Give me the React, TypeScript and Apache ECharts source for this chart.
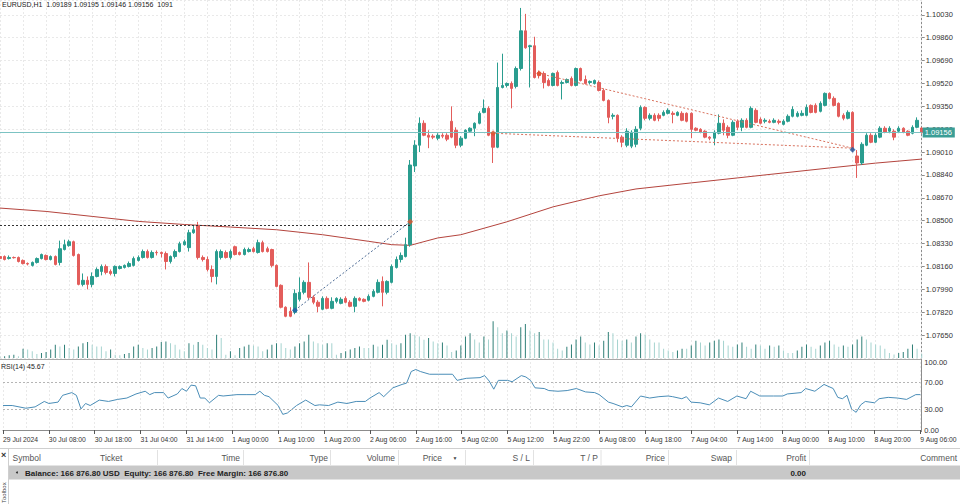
import React, { useEffect, useRef } from "react";
import * as echarts from "echarts";

const FONT = "'Liberation Sans', Arial, sans-serif";

const sessions = [
  { day: "29 Jul", first: 22, last: 23 },
  { day: "30 Jul", first: 0, last: 23 },
  { day: "31 Jul", first: 0, last: 23 },
  { day: "1 Aug", first: 0, last: 23 },
  { day: "2 Aug", first: 0, last: 23 },
  { day: "5 Aug", first: 0, last: 23 },
  { day: "6 Aug", first: 0, last: 23 },
  { day: "7 Aug", first: 0, last: 23 },
  { day: "8 Aug", first: 0, last: 23 },
  { day: "9 Aug", first: 0, last: 6 },
];
const firstLabel = "29 Jul 2024";

const opens = [
  1.08234, 1.08234, 1.08219, 1.08227, 1.08227, 1.08205, 1.08182, 1.08168, 1.0819, 1.08219,
  1.08242, 1.08212, 1.08234, 1.0819, 1.08286, 1.08315, 1.08344, 1.08249, 1.08027, 1.08057,
  1.08027, 1.08086, 1.08123, 1.0816, 1.08123, 1.08108, 1.08145, 1.08153, 1.0816, 1.08168,
  1.08205, 1.08227, 1.08271, 1.08227, 1.08264, 1.08264, 1.08256, 1.08197, 1.08234, 1.08271,
  1.08322, 1.083, 1.08411, 1.08463, 1.08227, 1.08212, 1.08138, 1.08086, 1.08227, 1.08264,
  1.08227, 1.08307, 1.08264, 1.08249, 1.08271, 1.08292, 1.08264, 1.08337, 1.08292, 1.08286,
  1.08168, 1.0802, 1.07857, 1.07827, 1.0782, 1.07916, 1.07968, 1.08042, 1.07931, 1.07894,
  1.07842, 1.07923, 1.07849, 1.07901, 1.07886, 1.07923, 1.07894, 1.07864, 1.07923, 1.07916,
  1.07909, 1.07938, 1.07968, 1.08049, 1.07968, 1.08042, 1.08153, 1.08212, 1.08234, 1.08322,
  1.08907, 1.09061, 1.09224, 1.09135, 1.09128, 1.09113, 1.09135, 1.09135, 1.09239, 1.09172,
  1.09061, 1.09113, 1.09165, 1.09187, 1.09224, 1.09305, 1.09335, 1.0915, 1.09046, 1.0949,
  1.09505, 1.0952, 1.09498, 1.09631, 1.09911, 1.09793, 1.098, 1.09601, 1.09594, 1.09542,
  1.09505, 1.09601, 1.0952, 1.09527, 1.09557, 1.09505, 1.09631, 1.09549, 1.09527, 1.0952,
  1.09527, 1.09468, 1.09394, 1.09276, 1.09283, 1.09121, 1.09061, 1.09054, 1.09068, 1.09187,
  1.09342, 1.09261, 1.09283, 1.09283, 1.09283, 1.09298, 1.09298, 1.09283, 1.09298, 1.09298,
  1.09298, 1.09187, 1.09179, 1.09165, 1.09121, 1.09113, 1.0915, 1.09224, 1.09194, 1.09135,
  1.09239, 1.09194, 1.09246, 1.09194, 1.0932, 1.09253, 1.09239, 1.09239, 1.09231, 1.09239,
  1.09216, 1.09239, 1.09276, 1.09276, 1.09283, 1.09283, 1.09357, 1.09357, 1.09313, 1.09357,
  1.09446, 1.09409, 1.09372, 1.09283, 1.09261, 1.09305, 1.08981, 1.08929, 1.09061, 1.09135,
  1.09083, 1.09121, 1.09187, 1.09165, 1.09165, 1.09165, 1.09187, 1.09165, 1.0915, 1.09194,
  1.09189,
];
const highs = [
  1.08242, 1.08242, 1.08242, 1.08234, 1.08234, 1.08212, 1.0819, 1.08197, 1.08227, 1.08256,
  1.08249, 1.08242, 1.08242, 1.08352, 1.08359, 1.08359, 1.08352, 1.08256, 1.08108, 1.08086,
  1.08116, 1.08153, 1.08175, 1.08175, 1.08138, 1.08168, 1.08168, 1.08175, 1.08197, 1.08234,
  1.08242, 1.08286, 1.08286, 1.08279, 1.08279, 1.08271, 1.08271, 1.08242, 1.08286, 1.08344,
  1.08359, 1.08433, 1.08463, 1.08492, 1.08242, 1.08234, 1.08168, 1.08286, 1.08286, 1.08279,
  1.08286, 1.08315, 1.08271, 1.083, 1.083, 1.08307, 1.08359, 1.08352, 1.08307, 1.08292,
  1.08175, 1.08027, 1.07864, 1.07857, 1.0799, 1.08079, 1.08057, 1.0819, 1.07946, 1.07909,
  1.07938, 1.07938, 1.07931, 1.07931, 1.07931, 1.07938, 1.07909, 1.07938, 1.07931, 1.07923,
  1.07953, 1.0799, 1.08064, 1.08086, 1.08057, 1.08175, 1.08234, 1.08264, 1.08374, 1.08951,
  1.09098, 1.09268, 1.09246, 1.09172, 1.09142, 1.0915, 1.0915, 1.0915, 1.0935, 1.09194,
  1.09128, 1.09179, 1.09194, 1.09231, 1.09313, 1.09401, 1.0935, 1.09157, 1.09675, 1.09741,
  1.09527, 1.09535, 1.09646, 1.10081, 1.10037, 1.09807, 1.09867, 1.09616, 1.09609, 1.09557,
  1.09601, 1.09616, 1.09542, 1.09557, 1.09572, 1.09638, 1.09638, 1.09579, 1.09542, 1.09549,
  1.09542, 1.09483, 1.09401, 1.09298, 1.0929, 1.09135, 1.09187, 1.09172, 1.09202, 1.09357,
  1.0935, 1.09298, 1.09298, 1.09298, 1.0932, 1.09335, 1.09313, 1.09313, 1.09313, 1.09305,
  1.09305, 1.09194, 1.09187, 1.09172, 1.09128, 1.09172, 1.0929, 1.09253, 1.09209, 1.09246,
  1.09253, 1.09261, 1.09261, 1.0935, 1.09335, 1.09268, 1.09261, 1.09253, 1.09261, 1.09253,
  1.09253, 1.0929, 1.0935, 1.09313, 1.0932, 1.09364, 1.09364, 1.09372, 1.09387, 1.09453,
  1.09453, 1.09424, 1.09379, 1.09298, 1.0932, 1.09313, 1.09025, 1.09083, 1.0915, 1.0915,
  1.0915, 1.09202, 1.09202, 1.09202, 1.09179, 1.09202, 1.09194, 1.09172, 1.09209, 1.09268,
  1.09195,
];
const lows = [
  1.08205, 1.08205, 1.08212, 1.08219, 1.0819, 1.08175, 1.08168, 1.0816, 1.08182, 1.08212,
  1.08205, 1.08205, 1.08168, 1.08168, 1.08279, 1.08307, 1.08234, 1.0802, 1.08012, 1.0799,
  1.08005, 1.08079, 1.08094, 1.08101, 1.08094, 1.08086, 1.08138, 1.08145, 1.08153, 1.0816,
  1.08197, 1.08219, 1.08219, 1.08219, 1.08242, 1.08227, 1.08138, 1.08182, 1.08219, 1.08264,
  1.08315, 1.08271, 1.08403, 1.08212, 1.08197, 1.08123, 1.08042, 1.08027, 1.08212, 1.08219,
  1.08212, 1.08242, 1.08242, 1.08242, 1.08264, 1.08264, 1.08256, 1.08264, 1.08264, 1.08153,
  1.08005, 1.07849, 1.07783, 1.07783, 1.07805, 1.07901, 1.07953, 1.07916, 1.07879, 1.0782,
  1.07835, 1.07842, 1.07842, 1.07886, 1.07879, 1.07886, 1.07857, 1.0782, 1.07901, 1.07894,
  1.07901, 1.07931, 1.0796, 1.07864, 1.07953, 1.08034, 1.08145, 1.0819, 1.08227, 1.08307,
  1.08862, 1.0901, 1.09128, 1.09039, 1.09106, 1.09098, 1.09113, 1.09091, 1.09113, 1.09039,
  1.09046, 1.09106, 1.09157, 1.09128, 1.09216, 1.09298, 1.09128, 1.08929, 1.09039, 1.09483,
  1.0949, 1.09335, 1.09483, 1.09616, 1.09778, 1.0949, 1.09557, 1.09557, 1.09483, 1.09498,
  1.09498, 1.09498, 1.09401, 1.0952, 1.09498, 1.09498, 1.09535, 1.09512, 1.09512, 1.09512,
  1.09461, 1.09387, 1.09224, 1.09253, 1.09083, 1.09046, 1.09046, 1.09039, 1.09046, 1.09172,
  1.09246, 1.09246, 1.09239, 1.09239, 1.09276, 1.0929, 1.09224, 1.09276, 1.09239, 1.09231,
  1.09113, 1.09165, 1.0915, 1.09113, 1.09098, 1.09061, 1.09142, 1.09135, 1.09113, 1.09128,
  1.09172, 1.09165, 1.09187, 1.09187, 1.09224, 1.09216, 1.09224, 1.09224, 1.09224, 1.09216,
  1.09209, 1.09231, 1.09268, 1.09268, 1.09276, 1.09276, 1.09298, 1.09298, 1.09305, 1.0935,
  1.09401, 1.0935, 1.09268, 1.09246, 1.09253, 1.0901, 1.08818, 1.08914, 1.09054, 1.09076,
  1.09076, 1.09113, 1.0915, 1.0915, 1.09098, 1.09157, 1.0915, 1.09128, 1.09142, 1.09187,
  1.09146,
];
const closes = [
  1.08219, 1.08212, 1.08227, 1.08225, 1.08197, 1.08182, 1.08178, 1.0819, 1.08219, 1.08249,
  1.08212, 1.08234, 1.08175, 1.08292, 1.08322, 1.08344, 1.08242, 1.08027, 1.08057, 1.08027,
  1.08086, 1.08138, 1.0816, 1.08116, 1.08108, 1.0816, 1.0816, 1.08168, 1.08182, 1.08219,
  1.08227, 1.08271, 1.08227, 1.08264, 1.08262, 1.08256, 1.08197, 1.08234, 1.08271, 1.08329,
  1.08344, 1.08411, 1.08433, 1.08227, 1.08212, 1.08138, 1.08086, 1.08271, 1.08271, 1.08227,
  1.08271, 1.08249, 1.08249, 1.08286, 1.08286, 1.08271, 1.08337, 1.08271, 1.08271, 1.08168,
  1.08012, 1.07857, 1.0779, 1.0779, 1.0796, 1.07968, 1.08042, 1.07931, 1.07894, 1.07864,
  1.07923, 1.07849, 1.07901, 1.07923, 1.07916, 1.07894, 1.07864, 1.07923, 1.07909, 1.07901,
  1.07938, 1.07975, 1.08042, 1.07968, 1.08049, 1.0816, 1.08212, 1.08242, 1.08322, 1.08914,
  1.09061, 1.09224, 1.09135, 1.09121, 1.09121, 1.09135, 1.09128, 1.09106, 1.09121, 1.09061,
  1.09113, 1.09172, 1.09187, 1.09224, 1.09298, 1.09335, 1.09135, 1.09046, 1.0949, 1.09505,
  1.0952, 1.09483, 1.09631, 1.09911, 1.09785, 1.098, 1.09564, 1.09579, 1.09527, 1.09505,
  1.09594, 1.09505, 1.09527, 1.09549, 1.09505, 1.09631, 1.09542, 1.0952, 1.09535, 1.09542,
  1.09468, 1.09394, 1.09268, 1.09283, 1.09113, 1.09083, 1.09165, 1.09157, 1.09179, 1.09342,
  1.09261, 1.09283, 1.09246, 1.09261, 1.09305, 1.0932, 1.0929, 1.09305, 1.09246, 1.09239,
  1.09179, 1.09172, 1.09157, 1.09121, 1.09113, 1.09157, 1.09224, 1.09172, 1.09135, 1.09231,
  1.09194, 1.09246, 1.09194, 1.09335, 1.09231, 1.09224, 1.09246, 1.09231, 1.09246, 1.09231,
  1.09239, 1.09276, 1.09327, 1.09298, 1.09298, 1.09342, 1.09305, 1.09305, 1.09372, 1.09446,
  1.09409, 1.09357, 1.09276, 1.09261, 1.09305, 1.09025, 1.08929, 1.09068, 1.09135, 1.09083,
  1.09135, 1.09187, 1.09157, 1.09187, 1.09121, 1.09187, 1.09157, 1.09135, 1.09194, 1.09246,
  1.09156,
];
const volumes = [
  300, 420, 660, 830, 420, 2300, 2100, 1660, 1000, 1250,
  1500, 2100, 3300, 2900, 3300, 2500, 2100, 2900, 3700, 4000,
  3300, 2900, 2900, 1660, 2100, 830, 660, 1000, 1250, 2900,
  3300, 2500, 2100, 2500, 2900, 4000, 4150, 3700, 3300, 2100,
  1660, 3700, 3300, 4000, 3300, 2500, 2100, 5800, 5000, 830,
  1660, 660, 2500, 2900, 3300, 3150, 2900, 1660, 2100, 3300,
  3700, 3700, 2500, 2100, 2900, 3700, 4150, 5800, 4150, 3700,
  3300, 3700, 3700, 830, 1250, 1660, 2100, 2500, 2900, 2500,
  2500, 3300, 2900, 3300, 4550, 3700, 3300, 3700, 5800, 6200,
  5800, 5400, 4550, 5000, 4150, 3700, 3850, 3100, 1500, 1850,
  3100, 5400, 6200, 4600, 3850, 5400, 4600, 9200, 7700, 6200,
  6900, 6200, 5400, 7700, 8500, 6900, 6200, 6500, 4600, 4600,
  3850, 2300, 1850, 2800, 3400, 4600, 5400, 3850, 3400, 3850,
  3100, 4300, 6500, 6200, 4600, 4300, 4600, 3850, 5400, 6200,
  5850, 4600, 3850, 3850, 2300, 1850, 1500, 1850, 2300, 2300,
  3100, 4300, 3850, 3100, 3850, 4300, 4600, 4300, 3100, 2800,
  3400, 3850, 2800, 2300, 3400, 3100, 2300, 3100, 2800, 3100,
  1850, 1250, 1250, 1850, 2800, 3400, 2800, 2300, 3100, 3850,
  4300, 3400, 2800, 3100, 2800, 3400, 4600, 5400, 4600, 3850,
  3400, 3100, 2300, 1250, 900, 1250, 1500, 2300, 3400, 2300,
  1091,
];
// moving average read at selected bars: [bar index, price]
const maPoints = [
  [0, 1.08594], [10, 1.08569], [20, 1.08532], [30, 1.08495], [40, 1.08472], [50, 1.08453],
  [60, 1.08433], [70, 1.08396], [80, 1.08347], [85, 1.08322], [89, 1.08317], [95, 1.08372],
  [100, 1.08396], [110, 1.08492], [120, 1.08603], [130, 1.08685], [138, 1.08736], [150, 1.08781],
  [160, 1.08818], [170, 1.08855], [180, 1.08892], [190, 1.08928], [200, 1.08958],
];
// RSI(14) read at selected bars: [bar index, value]
const rsiPoints = [
  [0, 36], [2, 36], [5, 32], [7, 34], [9, 42], [10, 39], [12, 41], [13, 51], [15, 55], [16, 51],
  [17, 31], [18, 39], [19, 36], [21, 44], [23, 42], [25, 45], [27, 47], [29, 53], [31, 57], [32, 52],
  [33, 55], [35, 55], [36, 47], [38, 53], [39, 61], [40, 57], [41, 66], [42, 65], [43, 47], [44, 47],
  [45, 40], [47, 51], [48, 50], [51, 52], [53, 52], [55, 52], [56, 57], [57, 51], [58, 49], [60, 36],
  [61, 23], [62, 25], [64, 36], [66, 44], [68, 36], [69, 37], [71, 36], [73, 41], [75, 39], [77, 42],
  [79, 42], [80, 47], [82, 55], [83, 49], [85, 62], [87, 67], [88, 69], [89, 86], [90, 89], [91, 86],
  [93, 82], [95, 82], [98, 82], [99, 73], [101, 76], [104, 77], [105, 80], [106, 72], [107, 60], [108, 73],
  [110, 73], [111, 71], [113, 80], [114, 78], [115, 73], [116, 62], [118, 61], [119, 58], [121, 57], [123, 58],
  [125, 61], [127, 56], [129, 55], [130, 52], [132, 41], [133, 39], [135, 34], [136, 36], [137, 34], [139, 50],
  [141, 47], [143, 49], [145, 50], [146, 49], [148, 46], [149, 49], [150, 41], [152, 40], [154, 37], [156, 47],
  [158, 42], [160, 50], [162, 46], [163, 57], [165, 50], [168, 50], [170, 50], [171, 53], [174, 55], [175, 61],
  [177, 57], [179, 67], [181, 61], [182, 48], [183, 46], [184, 51], [185, 31], [186, 26], [187, 37], [188, 42],
  [190, 40], [191, 46], [193, 48], [195, 47], [197, 45], [199, 52], [200, 52],
];
const rsiCurrent = 45.67;
const rsiLevels = [30, 70];
const rsiLabels = [0, 30, 70, 100];
const priceMin = 1.0748;
const priceMax = 1.1014;
const priceStep = 0.0017;
const bidPrice = 1.09156;
const levelLine = { from: 0, to: 89, price: 1.0847 };
const buyMarks = [[64, 1.07835], [185, 1.09028]];
const sellMarks = [[89, 1.08492], [107, 1.0915], [117, 1.09594]];
const tradeLines = [
  { from: [64, 1.07835], to: [89, 1.08492], side: "buy" },
  { from: [107, 1.0915], to: [185, 1.09039], side: "sell" },
  { from: [117, 1.09594], to: [185, 1.09039], side: "sell" },
];
const tableColumns = [
  { name: "Symbol", x: 12.5, align: "left" },
  { name: "Ticket", x: 100, align: "left" },
  { name: "Time", x: 240, align: "right" },
  { name: "Type", x: 328, align: "right" },
  { name: "Volume", x: 395, align: "right" },
  { name: "Price", x: 442, align: "right" },
  { name: "S / L", x: 530, align: "right" },
  { name: "T / P", x: 598, align: "right" },
  { name: "Price", x: 665, align: "right" },
  { name: "Swap", x: 732, align: "right" },
  { name: "Profit", x: 806, align: "right" },
  { name: "Comment", x: 957, align: "right" },
];
const columnSeparators = [157, 243, 330, 398, 465, 533, 600.5, 668, 736, 809];
const balanceText = "Balance: 166 876.80 USD  Equity: 166 876.80  Free Margin: 166 876.80";
const profitText = "0.00";

const UP = "#2a9d8f";
const DOWN = "#e35d5b";

export default function App() {
  const ref = useRef<HTMLDivElement>(null);
  useEffect(() => {
    if (!ref.current) return;
    const chart = echarts.init(ref.current, null, { renderer: "svg" });
    const categories: string[] = [];
    sessions.forEach((s) => {
      for (let h = s.first; h <= s.last; h++) categories.push(`${s.day} ${String(h).padStart(2, "0")}:00`);
    });
    const last = closes.length - 1;
    const candles = closes.map((c, i) => [opens[i], c, lows[i], highs[i]]);
    const vgrid = { show: true, interval: 4, lineStyle: { color: "#e9e9e9", type: [2, 2] as any, width: 1 } };
    const tradeMark = tradeLines.map((t) => [
      { coord: t.from },
      { coord: t.to, lineStyle: { color: t.side === "buy" ? "#4f6d96" : "#d9735f", type: [2, 2], width: 1 } },
    ]);
    const graphic: any[] = [
      { type: "line", shape: { x1: 0, y1: 359.5, x2: 922, y2: 359.5 }, style: { stroke: "#a9a9a9", lineWidth: 1 } },
      { type: "line", shape: { x1: 921.5, y1: 0, x2: 921.5, y2: 432 }, style: { stroke: "#8c8c8c", lineWidth: 1 } },
      { type: "line", shape: { x1: 0, y1: 448.5, x2: 960, y2: 448.5 }, style: { stroke: "#cfcfcf", lineWidth: 1 } },
      { type: "line", shape: { x1: 8.5, y1: 449, x2: 8.5, y2: 504 }, style: { stroke: "#cfcfcf", lineWidth: 1 } },
      { type: "line", shape: { x1: 9, y1: 465.5, x2: 960, y2: 465.5 }, style: { stroke: "#e4e4e4", lineWidth: 1 } },
      { type: "rect", shape: { x: 9, y: 466, width: 951, height: 13.5 }, style: { fill: "#c8c8c8" } },
      ...columnSeparators.map((x) => ({
        type: "line",
        shape: { x1: x + 0.5, y1: 450, x2: x + 0.5, y2: 465 },
        style: { stroke: "#e2e2e2", lineWidth: 1 },
      })),
      ...tableColumns.map((c) => ({
        type: "text",
        x: c.x,
        y: 457.5,
        style: { text: c.name, fontSize: 8.5, fill: "#555", align: c.align, verticalAlign: "middle", fontFamily: FONT },
      })),
      { type: "text", x: 455, y: 457.5, style: { text: "▼", fontSize: 5, fill: "#444", align: "center", verticalAlign: "middle" } },
      { type: "text", x: 1, y: 455, style: { text: "×", fontSize: 9, fontWeight: "bold", fill: "#333", verticalAlign: "middle", fontFamily: FONT } },
      { type: "text", x: 1, y: 503, rotation: Math.PI / 2, style: { text: "Toolbox", fontSize: 6, fill: "#444", verticalAlign: "top", fontFamily: FONT } },
      { type: "circle", shape: { cx: 17, cy: 472.5, r: 1 }, style: { fill: "#333" } },
      { type: "text", x: 25, y: 473, style: { text: balanceText, fontSize: 8, fontWeight: "bold", fill: "#222", verticalAlign: "middle", fontFamily: FONT } },
      { type: "text", x: 806, y: 473, style: { text: profitText, fontSize: 8, fontWeight: "bold", fill: "#222", align: "right", verticalAlign: "middle", fontFamily: FONT } },
    ];
    const option: any = {
      animation: false,
      backgroundColor: "#ffffff",
      textStyle: { fontFamily: FONT },
      title: [
        {
          text: `EURUSD,H1  ${opens[last].toFixed(5)} ${highs[last].toFixed(5)} ${lows[last].toFixed(5)} ${closes[last].toFixed(5)}  ${volumes[last]}`,
          left: 2, top: 1, padding: 0,
          textStyle: { fontSize: 7, fontWeight: "normal", color: "#222", fontFamily: FONT },
        },
        {
          text: `RSI(14) ${rsiCurrent.toFixed(2)}`,
          left: 1, top: 363, padding: 0,
          textStyle: { fontSize: 7, fontWeight: "normal", color: "#222", fontFamily: FONT },
        },
      ],
      grid: [
        { left: 0, top: 0, width: 921.7, height: 358 },
        { left: 0, top: 313, width: 921.7, height: 45 },
        { left: 0, top: 362, width: 921.7, height: 68 },
      ],
      xAxis: [
        { type: "category", gridIndex: 0, data: categories, boundaryGap: false, axisLine: { show: false }, axisTick: { show: false }, axisLabel: { show: false }, splitLine: vgrid },
        { type: "category", gridIndex: 1, data: categories, boundaryGap: false, show: false },
        {
          type: "category", gridIndex: 2, data: categories, boundaryGap: false,
          axisLine: { show: true, lineStyle: { color: "#8c8c8c" } },
          axisTick: { show: true, interval: 9, length: 4, lineStyle: { color: "#555" } },
          axisLabel: {
            interval: 9, align: "left", margin: 6, fontSize: 6.8, color: "#333", fontFamily: FONT,
            formatter: (v: string, idx: number) => (idx === 0 ? firstLabel : v),
          },
          splitLine: vgrid,
        },
      ],
      yAxis: [
        {
          type: "value", gridIndex: 0, position: "right", min: priceMin, max: priceMax, interval: priceStep,
          axisLine: { show: false },
          axisTick: { show: true, length: 3, lineStyle: { color: "#8c8c8c" } },
          axisLabel: { showMinLabel: false, showMaxLabel: false, margin: 4, fontSize: 7.5, color: "#333", fontFamily: FONT, formatter: (v: number) => v.toFixed(5) },
          splitLine: { show: true, lineStyle: { color: "#e9e9e9", type: [2, 2], width: 1 } },
        },
        { type: "value", gridIndex: 1, min: 0, max: 11250, show: false },
        {
          type: "value", gridIndex: 2, position: "right", min: 0, max: 100, interval: 10,
          axisLine: { show: false },
          axisTick: { show: false },
          axisLabel: {
            margin: 4, fontSize: 7.5, color: "#333", fontFamily: FONT,
            formatter: (v: number) => (rsiLabels.includes(Math.round(v)) ? v.toFixed(2) : ""),
          },
          splitLine: { show: false },
        },
      ],
      series: [
        {
          name: "MA", type: "line", xAxisIndex: 0, yAxisIndex: 0, data: maPoints, symbol: "none", z: 2,
          lineStyle: { color: "#b4443d", width: 1 }, silent: true,
          markLine: {
            silent: true, symbol: ["none", "none"], label: { show: false }, precision: 5,
            data: [
              [
                { coord: [levelLine.from, levelLine.price] },
                { coord: [levelLine.to, levelLine.price], lineStyle: { color: "#333", type: [2, 2], width: 1 } },
              ],
              ...tradeMark,
              {
                yAxis: bidPrice,
                lineStyle: { color: "#7cc3c3", type: "solid", width: 1 },
                label: {
                  show: true, position: "end", distance: 1, formatter: bidPrice.toFixed(5),
                  backgroundColor: "#3a9e96", color: "#fff", fontSize: 7.5, padding: [1, 3, 1, 2], fontFamily: FONT,
                },
              },
            ],
          },
        },
        {
          name: "EURUSD", type: "candlestick", xAxisIndex: 0, yAxisIndex: 0, data: candles, barWidth: 3, z: 3,
          itemStyle: { color: UP, color0: DOWN, borderColor: UP, borderColor0: DOWN, borderWidth: 1 },
        },
        {
          name: "Buy", type: "scatter", xAxisIndex: 0, yAxisIndex: 0, data: buyMarks, symbol: "diamond", symbolSize: 6, z: 6,
          itemStyle: { color: "#1f5fa8" },
        },
        {
          name: "Sell", type: "scatter", xAxisIndex: 0, yAxisIndex: 0, data: sellMarks, symbol: "diamond", symbolSize: 6, z: 6,
          itemStyle: { color: "#e0522c" },
        },
        {
          name: "Volume", type: "bar", xAxisIndex: 1, yAxisIndex: 1, barWidth: 1, z: 1,
          data: volumes.map((v, i) => ({ value: v, itemStyle: { color: i > 0 && v > volumes[i - 1] ? "#2f7f77" : "#a5d3cf" } })),
        },
        {
          name: "RSI", type: "line", xAxisIndex: 2, yAxisIndex: 2, data: rsiPoints, symbol: "none",
          lineStyle: { color: "#4a8db7", width: 1 },
          markLine: {
            silent: true, symbol: ["none", "none"], label: { show: false },
            lineStyle: { color: "#b5b5b5", type: [2, 2], width: 1 },
            data: rsiLevels.map((l) => ({ yAxis: l })),
          },
        },
      ],
      graphic,
    };
    chart.setOption(option);
    return () => chart.dispose();
  }, []);
  return <div ref={ref} style={{ position: "absolute", left: 0, top: 0, width: 960, height: 504, background: "#fff" }} />;
}
